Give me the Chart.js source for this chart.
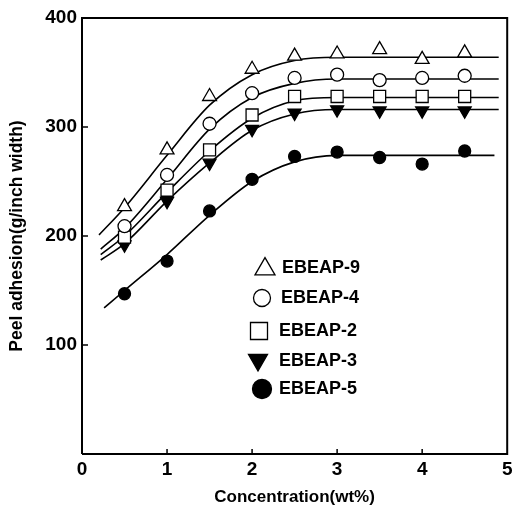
<!DOCTYPE html>
<html><head><meta charset="utf-8">
<script src="https://cdn.jsdelivr.net/npm/chart.js@4/dist/chart.umd.min.js"></script>
<style>html,body{margin:0;padding:0;background:#fff}#wrap{width:517px;height:509px}</style>
</head><body><div id="wrap"><canvas id="c" width="517" height="509"></canvas></div>
<script>
// measured points
const concentration = [0.5, 1, 1.5, 2, 2.5, 3, 3.5, 4, 4.5];
const ebeap9 = [227, 279, 328, 353, 365, 367, 371, 362, 368];
const ebeap4 = [209, 256, 303, 331, 345, 348, 343, 345, 347];
const ebeap2 = [199, 242, 279, 311, 328, 328, 328, 328, 328];
const ebeap3 = [192, 232, 267, 298, 313, 316, 315, 315, 315];
const ebeap5 = [147, 177, 223, 252, 273, 277, 272, 266, 278];
// fitted curves, knots
const fit9X = [0.2, 0.5, 1, 1.5, 2, 2.5, 3, 4.9];
const fit9Y = [201, 226, 274, 320, 348, 361, 364, 364];
const fit4X = [0.22, 0.5, 1, 1.5, 2, 2.5, 3, 4.9];
const fit4Y = [188, 207, 252, 298, 327, 340, 344, 344];
const fit2X = [0.22, 0.5, 1, 1.5, 2, 2.5, 3, 4.9];
const fit2Y = [183, 200, 240, 278, 308, 324, 327, 327];
const fit3X = [0.22, 0.5, 1, 1.5, 2, 2.5, 3, 4.9];
const fit3Y = [178, 193, 232, 267, 297, 312, 316, 316];
const fit5X = [0.26, 0.5, 1, 1.5, 2, 2.5, 3, 4.85];
const fit5Y = [134, 150, 183, 219, 250, 268, 274, 274];
const seriesNames = ['EBEAP-9', 'EBEAP-4', 'EBEAP-2', 'EBEAP-3', 'EBEAP-5'];
const xTicks = [0, 1, 2, 3, 4, 5];
const yTicks = [100, 200, 300, 400];

const pts = (xs, ys) => xs.map((x, i) => ({x: x, y: ys[i]}));
const FONT = "'Liberation Sans', Arial, sans-serif";

const styles = [
  {pointStyle: 'triangle', rotation: 0, radius: 8, bg: '#fff'},
  {pointStyle: 'circle', rotation: 0, radius: 6.5, bg: '#fff'},
  {pointStyle: 'rect', rotation: 0, radius: 8.5, bg: '#fff'},
  {pointStyle: 'triangle', rotation: 180, radius: 7.5, bg: '#000'},
  {pointStyle: 'circle', rotation: 0, radius: 6, bg: '#000'}
];
const measured = [ebeap9, ebeap4, ebeap2, ebeap3, ebeap5];
const fitsX = [fit9X, fit4X, fit2X, fit3X, fit5X];
const fitsY = [fit9Y, fit4Y, fit2Y, fit3Y, fit5Y];

const datasets = [];
for (let i = 0; i < 5; i++) {
  datasets.push({
    label: seriesNames[i] + ' fit',
    data: pts(fitsX[i], fitsY[i]),
    borderColor: '#000', borderWidth: 1.6, pointRadius: 0,
    cubicInterpolationMode: 'monotone', fill: false, order: 2
  });
  datasets.push({
    label: seriesNames[i],
    data: pts(concentration, measured[i]),
    showLine: false, pointStyle: styles[i].pointStyle, rotation: styles[i].rotation,
    pointRadius: styles[i].radius, pointBackgroundColor: styles[i].bg,
    pointBorderColor: '#000', pointBorderWidth: 1.3, order: 1
  });
}

function drawMarker(ctx, st, x, y, r) {
  ctx.save();
  ctx.fillStyle = st.bg; ctx.strokeStyle = '#000'; ctx.lineWidth = 1.3;
  ctx.beginPath();
  if (st.pointStyle === 'circle') {
    ctx.arc(x, y, r, 0, Math.PI * 2);
  } else if (st.pointStyle === 'rect') {
    ctx.rect(x - r, y - r, 2 * r, 2 * r);
  } else if (st.pointStyle === 'triangle') {
    const s = st.rotation === 180 ? -1 : 1;
    const h = r * 1.732;
    ctx.moveTo(x, y - s * h * 0.6);
    ctx.lineTo(x + r, y + s * h * 0.4);
    ctx.lineTo(x - r, y + s * h * 0.4);
    ctx.closePath();
  }
  ctx.fill(); ctx.stroke();
  ctx.restore();
}

const framePlugin = {
  id: 'frame',
  afterDraw(chart) {
    const {ctx, chartArea: a, scales} = chart;
    ctx.save();
    ctx.strokeStyle = '#000';
    ctx.lineWidth = 2;
    ctx.beginPath();
    ctx.moveTo(a.left, a.bottom); ctx.lineTo(a.left, a.top); ctx.lineTo(a.right, a.top); ctx.lineTo(a.right, a.bottom); ctx.lineTo(a.left, a.bottom);
    ctx.stroke();
    ctx.lineWidth = 1.5;
    ctx.beginPath();
    xTicks.forEach(v => { if (v > 0 && v < 5) { const px = scales.x.getPixelForValue(v); ctx.moveTo(px, a.bottom); ctx.lineTo(px, a.bottom - 5); } });
    yTicks.forEach(v => { if (v < 400) { const py = scales.y.getPixelForValue(v); ctx.moveTo(a.left, py); ctx.lineTo(a.left + 6, py); } });
    ctx.stroke();
    // legend
    const rows = [
      {mx: 265, my: 268, r: 10, tx: 282},
      {mx: 262, my: 298, r: 8.5, tx: 281},
      {mx: 259, my: 331, r: 8.5, tx: 279},
      {mx: 258, my: 361, r: 9.5, tx: 279},
      {mx: 262, my: 389, r: 9.5, tx: 279}
    ];
    ctx.font = "bold 18px " + FONT;
    ctx.fillStyle = '#000';
    ctx.textBaseline = 'middle';
    rows.forEach((row, i) => {
      drawMarker(ctx, styles[i], row.mx, row.my, row.r);
      ctx.fillText(seriesNames[i], row.tx, row.my);
    });
    ctx.restore();
  }
};

new Chart(document.getElementById('c'), {
  type: 'line',
  data: {datasets: datasets},
  plugins: [framePlugin],
  options: {
    responsive: false, animation: false, devicePixelRatio: 1,
    layout: {padding: {top: 18, right: 1, left: 0, bottom: 0}},
    plugins: {legend: {display: false}, tooltip: {enabled: false}},
    scales: {
      x: {
        type: 'linear', min: 0, max: 5,
        afterFit(s) { s.height = 55; },
        afterBuildTicks(s) { s.ticks = xTicks.map(v => ({value: v})); },
        grid: {display: false, drawTicks: false},
        border: {display: false},
        ticks: {color: '#000', padding: 4, font: {family: FONT, size: 19, weight: 'bold'}},
        title: {display: true, text: 'Concentration(wt%)', color: '#000', padding: {top: 0, bottom: 1}, font: {family: FONT, size: 17, weight: 'bold'}}
      },
      y: {
        type: 'linear', min: 0, max: 400,
        afterFit(s) { s.width = 82; },
        afterBuildTicks(s) { s.ticks = yTicks.map(v => ({value: v})); },
        grid: {display: false, drawTicks: false},
        border: {display: false},
        ticks: {color: '#000', padding: 5, font: {family: FONT, size: 19, weight: 'bold'}},
        title: {display: true, text: 'Peel adhesion(g/inch width)', color: '#000', padding: {top: 7, bottom: 0}, font: {family: FONT, size: 17.5, weight: 'bold'}}
      }
    }
  }
});
</script></body></html>
